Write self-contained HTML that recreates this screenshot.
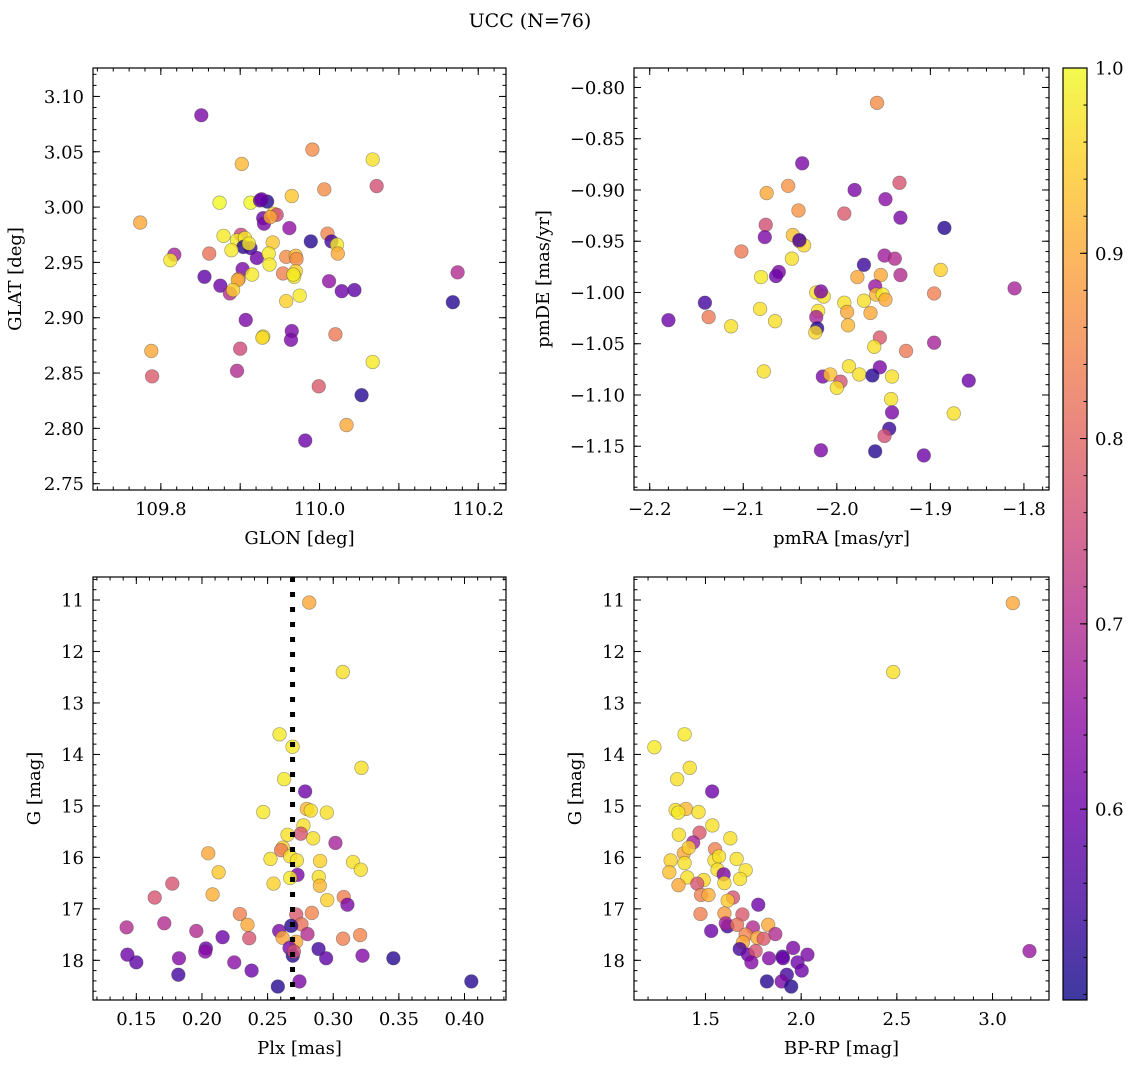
<!DOCTYPE html>
<html><head><meta charset="utf-8"><style>
html,body{margin:0;padding:0;background:#fff;}
svg{display:block;font-family:"DejaVu Serif","Liberation Serif",serif;}
</style></head><body>
<svg id="fig" width="1136" height="1067" viewBox="0 0 1136 1067" xmlns="http://www.w3.org/2000/svg">
<defs>
<linearGradient id="cmapGrad" x1="0" y1="1" x2="0" y2="0">
<stop offset="0" stop-color="#0d0887"/><stop offset="0.1" stop-color="#41049d"/><stop offset="0.2" stop-color="#6a00a8"/><stop offset="0.3" stop-color="#8f0da4"/><stop offset="0.4" stop-color="#b12a90"/><stop offset="0.5" stop-color="#cc4778"/><stop offset="0.6" stop-color="#e16462"/><stop offset="0.7" stop-color="#f2844b"/><stop offset="0.8" stop-color="#fca636"/><stop offset="0.9" stop-color="#fcce25"/><stop offset="1" stop-color="#f0f921"/>
</linearGradient>
</defs>
<text x="530" y="27" font-size="19" text-anchor="middle">UCC (N=76)</text>
</svg>
<script>
// ---- Panel 1: GLON vs GLAT ----
const glonTL=[109.851,109.991,109.902,110.067,110.072,110.006,109.965,109.874,109.913,109.925,109.934,109.774,109.929,109.942,109.946,109.930,109.962,109.879,109.901,109.896,109.906,109.904,109.913,109.911,109.941,109.989,110.010,110.015,110.022,110.023,109.817,109.812,109.861,109.889,109.921,109.936,109.937,109.958,109.970,109.971,109.855,109.903,109.875,109.898,109.897,109.915,109.954,109.970,109.968,109.887,109.891,110.012,110.028,110.044,109.975,109.958,110.174,110.168,109.907,109.929,109.965,109.964,110.020,109.788,109.900,110.067,109.789,109.896,109.999,110.053,110.034,109.982,109.928,109.927,109.967,109.938];
const glatTL=[3.083,3.052,3.039,3.043,3.019,3.016,3.010,3.004,3.004,3.006,3.005,2.986,2.990,2.994,2.993,2.985,2.981,2.974,2.975,2.970,2.972,2.964,2.963,2.967,2.968,2.969,2.976,2.969,2.966,2.958,2.957,2.952,2.958,2.961,2.954,2.958,2.948,2.955,2.956,2.953,2.937,2.944,2.929,2.935,2.934,2.939,2.940,2.942,2.937,2.922,2.925,2.933,2.924,2.925,2.920,2.915,2.941,2.914,2.898,2.883,2.888,2.880,2.885,2.870,2.872,2.860,2.847,2.852,2.838,2.830,2.803,2.789,2.882,3.007,2.939,2.991];
const probTL=[0.62,0.86,0.92,0.97,0.76,0.86,0.94,1.0,1.0,0.6,0.52,0.9,0.6,0.95,0.75,0.62,0.65,0.98,0.74,0.98,0.98,0.52,0.55,0.98,0.94,0.52,0.85,0.55,0.98,0.9,0.68,0.98,0.82,0.98,0.6,0.98,0.98,0.86,0.92,0.86,0.58,0.62,0.6,0.8,0.92,0.98,0.84,0.95,0.98,0.7,0.95,0.65,0.6,0.58,0.98,0.95,0.7,0.52,0.62,0.98,0.62,0.62,0.83,0.9,0.75,0.98,0.78,0.7,0.78,0.52,0.9,0.6,0.96,0.6,0.98,0.9];
const xTicksTL=[109.8,110.0,110.2];
const yTicksTL=[2.75,2.80,2.85,2.90,2.95,3.00,3.05,3.10];
// ---- Panel 2: pmRA vs pmDE ----
const pmraTR=[-1.957,-2.037,-2.075,-2.052,-2.041,-1.981,-1.933,-1.948,-1.992,-1.932,-1.885,-2.076,-2.077,-2.047,-2.040,-2.035,-2.102,-2.048,-1.949,-1.938,-1.971,-1.889,-2.081,-2.062,-2.065,-1.978,-1.953,-1.932,-1.810,-1.959,-2.141,-2.022,-2.014,-1.958,-1.951,-1.948,-1.896,-1.971,-1.992,-2.082,-2.020,-1.989,-1.964,-2.180,-2.137,-2.066,-2.113,-2.022,-2.021,-2.023,-1.988,-1.954,-1.960,-1.926,-1.896,-2.078,-1.987,-1.976,-1.954,-1.962,-1.941,-2.015,-2.007,-1.996,-2.000,-1.859,-1.942,-1.941,-1.875,-1.944,-1.949,-2.017,-1.959,-1.907,-2.040,-2.017];
const pmdeTR=[-0.815,-0.874,-0.903,-0.896,-0.920,-0.900,-0.893,-0.909,-0.923,-0.927,-0.937,-0.934,-0.946,-0.944,-0.950,-0.954,-0.960,-0.967,-0.964,-0.967,-0.973,-0.978,-0.985,-0.980,-0.984,-0.985,-0.983,-0.983,-0.996,-0.994,-1.010,-1.000,-1.004,-1.002,-1.002,-1.007,-1.001,-1.008,-1.010,-1.016,-1.018,-1.019,-1.020,-1.027,-1.024,-1.028,-1.033,-1.024,-1.035,-1.039,-1.032,-1.044,-1.053,-1.057,-1.049,-1.077,-1.072,-1.080,-1.073,-1.081,-1.082,-1.082,-1.080,-1.087,-1.093,-1.086,-1.104,-1.117,-1.118,-1.133,-1.140,-1.154,-1.155,-1.159,-0.949,-0.999];
const probTR=[0.86,0.62,0.9,0.87,0.87,0.62,0.77,0.64,0.78,0.62,0.52,0.76,0.62,0.93,0.85,0.96,0.83,0.97,0.67,0.7,0.54,0.95,0.98,0.62,0.6,0.9,0.9,0.7,0.68,0.66,0.55,0.97,0.97,0.92,0.98,0.9,0.84,0.97,0.97,0.97,0.97,0.9,0.9,0.6,0.83,0.97,0.97,0.68,0.52,0.96,0.92,0.78,0.97,0.83,0.68,0.97,0.97,0.97,0.62,0.52,0.97,0.62,0.93,0.77,0.97,0.6,0.97,0.62,0.97,0.54,0.76,0.62,0.52,0.6,0.55,0.62];
const xTicksTR=[-2.2,-2.1,-2.0,-1.9,-1.8];
const yTicksTR=[-1.15,-1.10,-1.05,-1.00,-0.95,-0.90,-0.85,-0.80];
// ---- Panel 3: Plx vs G ----
const plxBL=[0.2817,0.3073,0.2591,0.2690,0.3215,0.2626,0.2786,0.2467,0.2799,0.2829,0.2951,0.2773,0.2753,0.2652,0.2847,0.3017,0.2048,0.2616,0.2603,0.2522,0.2672,0.2723,0.2900,0.3151,0.3210,0.2127,0.2728,0.2672,0.2890,0.2545,0.2898,0.1774,0.2081,0.1640,0.2954,0.3080,0.3108,0.2289,0.2718,0.2837,0.2347,0.2758,0.1426,0.1713,0.1957,0.2157,0.2360,0.2588,0.2680,0.2804,0.2614,0.2718,0.3075,0.3205,0.1432,0.1500,0.1825,0.2030,0.2025,0.2246,0.1820,0.2378,0.2667,0.2692,0.2888,0.2946,0.3223,0.3458,0.2578,0.2743,0.4052,0.2700];
const gBL=[11.05,12.40,13.61,13.85,14.26,14.48,14.72,15.12,15.06,15.09,15.13,15.38,15.54,15.56,15.63,15.72,15.92,15.81,15.86,16.03,15.98,16.06,16.07,16.09,16.24,16.29,16.34,16.40,16.38,16.51,16.55,16.51,16.72,16.78,16.83,16.77,16.92,17.10,17.11,17.08,17.31,17.30,17.36,17.28,17.43,17.55,17.57,17.43,17.33,17.49,17.56,17.64,17.58,17.51,17.89,18.04,17.96,17.77,17.83,18.04,18.28,18.20,17.76,17.91,17.78,17.96,17.91,17.96,18.51,18.41,18.41,17.83];
const probBL=[0.9,0.97,0.98,0.98,0.97,0.98,0.6,0.98,0.92,0.97,0.97,0.97,0.77,0.97,0.97,0.68,0.9,0.95,0.83,0.97,0.97,0.97,0.95,0.97,0.97,0.94,0.62,0.98,0.97,0.95,0.92,0.77,0.91,0.77,0.95,0.84,0.62,0.84,0.78,0.85,0.9,0.82,0.7,0.7,0.7,0.6,0.77,0.62,0.52,0.7,0.9,0.9,0.84,0.85,0.6,0.58,0.63,0.6,0.64,0.64,0.55,0.6,0.62,0.52,0.55,0.58,0.63,0.52,0.52,0.62,0.52,0.76];
const xTicksBL=[0.15,0.20,0.25,0.30,0.35,0.40];
const gTicks=[11,12,13,14,15,16,17,18];
const plxRef=[0.269];
// ---- Panel 4: BP-RP vs G ----
const bprpBR=[3.106,2.481,1.233,1.391,1.418,1.352,1.535,1.344,1.398,1.358,1.464,1.536,1.469,1.361,1.630,1.436,1.387,1.413,1.550,1.318,1.391,1.547,1.571,1.663,1.710,1.311,1.563,1.595,1.405,1.491,1.599,1.681,1.359,1.457,1.477,1.516,1.644,1.616,1.776,1.474,1.599,1.693,1.530,1.615,1.606,1.665,1.748,1.828,1.865,1.710,1.771,1.804,1.696,1.679,1.722,1.762,1.740,1.832,1.903,1.905,1.958,2.033,1.981,2.003,1.925,1.821,1.898,1.948,3.193];
const gBR=[11.06,12.40,13.86,13.61,14.26,14.48,14.72,15.08,15.06,15.13,15.12,15.38,15.52,15.56,15.63,15.71,15.92,15.81,15.84,16.06,16.11,16.06,15.98,16.03,16.25,16.29,16.24,16.33,16.39,16.44,16.50,16.42,16.54,16.51,16.73,16.73,16.78,16.84,16.92,17.10,17.09,17.11,17.43,17.34,17.28,17.31,17.36,17.31,17.49,17.50,17.56,17.58,17.65,17.78,17.89,17.82,18.04,17.96,17.93,17.96,17.76,17.89,18.04,18.20,18.28,18.41,18.41,18.51,17.82];
const probBR=[0.9,0.97,0.98,0.98,0.97,0.97,0.6,0.97,0.92,0.98,0.97,0.97,0.78,0.97,0.97,0.68,0.9,0.95,0.84,0.95,0.97,0.97,0.97,0.97,0.97,0.93,0.97,0.62,0.97,0.96,0.96,0.97,0.9,0.77,0.84,0.91,0.77,0.94,0.6,0.84,0.88,0.78,0.6,0.55,0.68,0.82,0.7,0.9,0.7,0.85,0.9,0.78,0.9,0.55,0.6,0.77,0.63,0.63,0.55,0.6,0.62,0.62,0.6,0.6,0.55,0.52,0.62,0.52,0.66];
const xTicksBR=[1.5,2.0,2.5,3.0];
const cbTicks=[0.6,0.7,0.8,0.9,1.0];

const NS="http://www.w3.org/2000/svg";
const svg=document.getElementById('fig');
const VMIN=0.497,VMAX=1.0;
const FS=18;
const stops=[[13,8,135],[65,4,157],[106,0,168],[143,13,164],[177,42,144],[204,71,120],[225,100,98],[242,132,75],[252,166,54],[252,206,37],[240,249,33]];
function cmap(v){let t=(v-VMIN)/(VMAX-VMIN);t=Math.max(0,Math.min(1,t));const f=t*10,i=Math.min(9,Math.floor(f)),u=f-i;const a=stops[i],b=stops[i+1];return 'rgb('+a.map((c,k)=>Math.round(c+(b[k]-c)*u)).join(',')+')';}
function mk(tag,attrs,parent){const e=document.createElementNS(NS,tag);for(const k in attrs)e.setAttribute(k,attrs[k]);(parent||svg).appendChild(e);return e;}
function lin(d0,d1,r0,r1){return v=>r0+(v-d0)*(r1-r0)/(d1-d0);}
function fmt(v,dec){return (v<0?'\u2212':'')+Math.abs(v).toFixed(dec);}

function panel(o){
  const g=mk('g',{});
  
  
  const X=lin(o.xd[0],o.xd[1],o.L,o.R),Y=lin(o.yd[0],o.yd[1],o.B,o.T);
  const tk=mk('g',{stroke:'#000','stroke-width':1},g);
  
  
  function ticksX(step,len){const s=Math.ceil(o.xd[0]/step-1e-6);for(let i=s;i*step<=o.xd[1]+1e-9;i++){const x=X(i*step);mk('line',{x1:x,x2:x,y1:o.B,y2:o.B-len},tk);mk('line',{x1:x,x2:x,y1:o.T,y2:o.T+len},tk);}}
  function ticksY(step,len){const s=Math.ceil(Math.min(...o.yd)/step-1e-6);for(let i=s;i*step<=Math.max(...o.yd)+1e-9;i++){const y=Y(i*step);mk('line',{x1:o.L,x2:o.L+len,y1:y,y2:y},tk);mk('line',{x1:o.R,x2:o.R-len,y1:y,y2:y},tk);}}
  ticksX(o.xminor,3.5);ticksX(o.xmajor,7);ticksY(o.yminor,3.5);ticksY(o.ymajor,7);
  o.xticks.forEach(v=>{const t=mk('text',{x:X(v),y:o.B+25,'font-size':FS,'text-anchor':'middle'},g);t.textContent=fmt(v,o.xdec);});
  o.yticks.forEach(v=>{const t=mk('text',{x:o.L-9,y:Y(v)+6.5,'font-size':FS,'text-anchor':'end'},g);t.textContent=fmt(v,o.ydec);});
  const xl=mk('text',{x:(o.L+o.R)/2,y:o.B+54,'font-size':FS,'text-anchor':'middle'},g);xl.textContent=o.xlabel;
  
  
  const yx=o.L-o.ylabOff,yc=(o.T+o.B)/2;
  const yl=mk('text',{x:yx,y:yc,'font-size':FS,'text-anchor':'middle',transform:'rotate(-90 '+yx+' '+yc+')'},g);yl.textContent=o.ylabel;
  
  
  const cid='clip'+o.name;const cp=mk('clipPath',{id:cid},g);mk('rect',{x:o.L,y:o.T,width:o.R-o.L,height:o.B-o.T},cp);
  const pg=mk('g',{'clip-path':'url(#'+cid+')'},g);
  o.xs.forEach((xv,i)=>{const c=mk('circle',{cx:X(xv),cy:Y(o.ys[i]),r:6.8,fill:cmap(o.cs[i]),'fill-opacity':0.8,stroke:'rgba(60,60,60,0.45)','stroke-width':0.7},pg);
    
    });
  if(o.vlineTop){o.vlineTop.forEach(v=>{const l=mk('line',{x1:X(v),x2:X(v),y1:o.T,y2:o.B,stroke:'#000','stroke-width':5,'stroke-dasharray':'5 10'},pg);
    
    });}
  const fr=mk('rect',{x:o.L,y:o.T,width:o.R-o.L,height:o.B-o.T,fill:'none',stroke:'#000','stroke-width':1.2},g);
  
  
}
panel({name:'glon-glat-panel',L:93,R:506,T:68,B:490,xd:[109.7145,110.235],yd:[2.7443,3.1257],xmajor:0.1,xminor:0.02,ymajor:0.05,yminor:0.01,xticks:xTicksTL,yticks:yTicksTL,xdec:1,ydec:2,xs:glonTL,ys:glatTL,cs:probTL,xlabel:'GLON [deg]',ylabel:'GLAT [deg]',ylabOff:72});
panel({name:'pm-panel',L:634,R:1049,T:68,B:490,xd:[-2.2168,-1.7732],yd:[-1.1927,-0.781],xmajor:0.1,xminor:0.02,ymajor:0.05,yminor:0.01,xticks:xTicksTR,yticks:yTicksTR,xdec:1,ydec:2,xs:pmraTR,ys:pmdeTR,cs:probTR,xlabel:'pmRA [mas/yr]',ylabel:'pmDE [mas/yr]',ylabOff:85});
panel({name:'plx-g-panel',L:93,R:506,T:577,B:1000,xd:[0.117,0.4316],yd:[18.771,10.553],xmajor:0.05,xminor:0.01,ymajor:1,yminor:0.2,xticks:xTicksBL,yticks:gTicks,xdec:2,ydec:0,xs:plxBL,ys:gBL,cs:probBL,xlabel:'Plx [mas]',ylabel:'G [mag]',ylabOff:53,vlineTop:plxRef});
panel({name:'cmd-panel',L:634,R:1049,T:577,B:1000,xd:[1.1266,3.295],yd:[18.771,10.553],xmajor:0.5,xminor:0.1,ymajor:1,yminor:0.2,xticks:xTicksBR,yticks:gTicks,xdec:1,ydec:0,xs:bprpBR,ys:gBR,cs:probBR,xlabel:'BP-RP [mag]',ylabel:'G [mag]',ylabOff:53});

const cb=mk('g',{});


const CT=68,CB=1000,CL=1063,CR=1087;
const CY=lin(VMIN,VMAX,CB,CT);
mk('rect',{x:CL,y:CT,width:CR-CL,height:CB-CT,fill:'url(#cmapGrad)','fill-opacity':0.8},cb);
for(let v=0.5;v<=1.0001;v+=0.02){const y=CY(v);if(y<=CB&&y>=CT)mk('line',{x1:CR,x2:CR-3.5,y1:y,y2:y,stroke:'#000'},cb);}
cbTicks.forEach(v=>{const y=CY(v);mk('line',{x1:CR,x2:CR-7,y1:y,y2:y,stroke:'#000'},cb);const t=mk('text',{x:CR+8,y:y+6.5,'font-size':FS},cb);t.textContent=v.toFixed(1);
  
  });
mk('rect',{x:CL,y:CT,width:CR-CL,height:CB-CT,fill:'none',stroke:'#000','stroke-width':1.2},cb);
</script>
</body></html>
